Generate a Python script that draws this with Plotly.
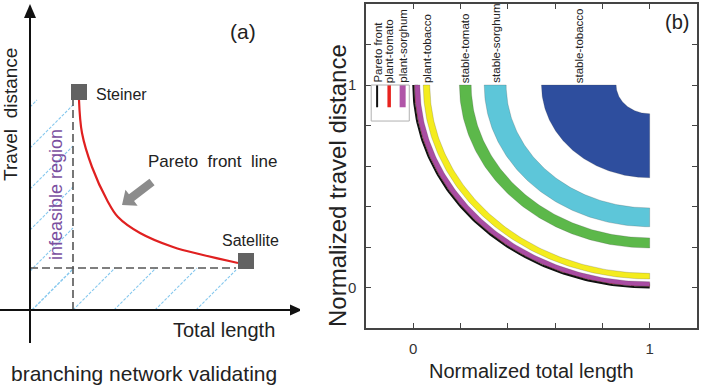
import numpy as np
import plotly.graph_objects as go

FONT = "Liberation Sans, Arial, sans-serif"

# ---------------- panel (b) data ----------------
band_names = ["plant-tomato", "plant-sorghum", "plant-tobacco",
              "stable-tomato", "stable-sorghum", "stable-tobacco"]
band_inner = [0.980, 0.972, 0.930, 0.755, 0.607, 0.142]
band_outer = [0.995, 0.994, 0.958, 0.805, 0.700, 0.458]
band_colors = ["#e8231f", "#a94ca3", "#f4ec1e", "#5cb84a", "#5dc6d9", "#2e4e9e"]
band_labelled = [False, False, True, True, True, True]
pareto_radius = 1.0
front_center_x = 1.0
front_center_y = 1.0

legend_names = ["Pareto front", "plant-tomato", "plant-sorghum"]
legend_colors = ["#111111", "#e8231f", "#b055a8"]
legend_x = [-0.153, -0.102, -0.045]
legend_widths = [2, 3.5, 6]
legend_box_x = [-0.178, -0.017]
legend_box_y = [0.822, 1.0]
legend_line_bottom = 0.89

xtick_vals = [-0.2, 0.0, 0.2, 0.4, 0.6, 0.8, 1.0, 1.2]
xtick_text = ["", "0", "", "", "", "", "1", ""]
ytick_vals = [-0.2, 0.0, 0.2, 0.4, 0.6, 0.8, 1.0, 1.2, 1.4]
ytick_text = ["", "0", "", "", "", "", "1", "", ""]

# ---------------- panel (a) schematic data ----------------
steiner = (4.9, 21.8)
satellite = (21.6, 4.9)
pareto_x = [4.9, 5.2, 6.2, 7.7, 8.8, 11.0, 14.3, 17.3, 20.8]
pareto_y = [21.0, 17.7, 14.3, 11.0, 9.3, 7.7, 6.3, 5.5, 4.7]
steiner_length = 4.3      # dashed vertical bound
satellite_distance = 4.2  # dashed horizontal bound
vertical_bound_top = 21.0
horizontal_bound_end = 20.6
hatch_spacing = 4.1
hatch_offset = 0.2
arrow_tail = (12.2, 12.8)
arrow_tip = (9.2, 10.5)

fig = go.Figure()

# ---------------- panel (b) traces ----------------
theta = np.linspace(np.pi, 1.5 * np.pi, 120)
for name, ri, ro, col in zip(band_names, band_inner, band_outer, band_colors):
    xo = front_center_x + ro * np.cos(theta)
    yo = front_center_y + ro * np.sin(theta)
    xi = front_center_x + ri * np.cos(theta[::-1])
    yi = front_center_y + ri * np.sin(theta[::-1])
    fig.add_trace(go.Scatter(
        x=np.concatenate([xo, xi, xo[:1]]), y=np.concatenate([yo, yi, yo[:1]]),
        fill="toself", fillcolor=col, mode="lines",
        line=dict(width=0.6, color="rgba(60,60,60,0.35)"),
        name=name, xaxis="x", yaxis="y", hoverinfo="name"))

fig.add_trace(go.Scatter(
    x=front_center_x + pareto_radius * np.cos(theta),
    y=front_center_y + pareto_radius * np.sin(theta),
    mode="lines", line=dict(color="#111111", width=2),
    name="Pareto front", xaxis="x", yaxis="y"))

for name, col, lx, lw in zip(legend_names, legend_colors, legend_x, legend_widths):
    fig.add_trace(go.Scatter(
        x=[lx, lx], y=[legend_box_y[1], legend_line_bottom], mode="lines",
        line=dict(color=col, width=lw), name=name, xaxis="x", yaxis="y",
        hoverinfo="skip"))

# ---------------- panel (a) traces ----------------
def clip_diag(c, x1, x2, y1, y2):
    # line y = x + c clipped to rectangle
    lo = max(x1, y1 - c)
    hi = min(x2, y2 - c)
    if hi <= lo:
        return None
    return (lo, lo + c, hi, hi + c)

hx, hy = [], []
for k in range(-6, 6):
    c = -(hatch_offset + hatch_spacing * k)
    for rect in [(0, steiner_length, 0, vertical_bound_top),
                 (0, horizontal_bound_end, 0, satellite_distance)]:
        seg = clip_diag(c, *rect)
        if seg:
            hx += [seg[0], seg[2], None]
            hy += [seg[1], seg[3], None]
fig.add_trace(go.Scatter(x=hx, y=hy, mode="lines",
                         line=dict(color="#86c8ee", width=1.1, dash="3px,1.5px"),
                         xaxis="x2", yaxis="y2", hoverinfo="skip"))

# dashed bounds
fig.add_trace(go.Scatter(x=[steiner_length, steiner_length], y=[0, vertical_bound_top],
                         mode="lines", line=dict(color="#555555", width=1.6, dash="8px,4px"),
                         xaxis="x2", yaxis="y2", hoverinfo="skip"))
fig.add_trace(go.Scatter(x=[0, horizontal_bound_end], y=[satellite_distance, satellite_distance],
                         mode="lines", line=dict(color="#555555", width=1.6, dash="8px,4px"),
                         xaxis="x2", yaxis="y2", hoverinfo="skip"))

# axes with arrowheads
fig.add_trace(go.Scatter(x=[0, 0], y=[-3.3, 29.4], mode="lines",
                         line=dict(color="#111111", width=2), xaxis="x2", yaxis="y2",
                         hoverinfo="skip"))
fig.add_trace(go.Scatter(x=[-3.0, 26.1], y=[0, 0], mode="lines",
                         line=dict(color="#111111", width=2), xaxis="x2", yaxis="y2",
                         hoverinfo="skip"))
fig.add_trace(go.Scatter(x=[-0.6, 0.6, 0, -0.6], y=[29.2, 29.2, 30.6, 29.2],
                         fill="toself", fillcolor="#111111", mode="lines",
                         line=dict(color="#111111", width=0), xaxis="x2", yaxis="y2",
                         hoverinfo="skip"))
fig.add_trace(go.Scatter(x=[26.0, 26.0, 27.2, 26.0], y=[-0.55, 0.55, 0, -0.55],
                         fill="toself", fillcolor="#111111", mode="lines",
                         line=dict(color="#111111", width=0), xaxis="x2", yaxis="y2",
                         hoverinfo="skip"))

# pareto curve
fig.add_trace(go.Scatter(x=pareto_x, y=pareto_y, mode="lines", line_shape="spline",
                         line=dict(color="#e02020", width=2.2), xaxis="x2", yaxis="y2"))

# Steiner / Satellite squares
fig.add_trace(go.Scatter(x=[steiner[0], satellite[0]], y=[steiner[1], satellite[1]],
                         mode="markers",
                         marker=dict(symbol="square", size=16, color="#626262"),
                         xaxis="x2", yaxis="y2"))

# grey fat arrow
T = np.array(arrow_tail)
P = np.array(arrow_tip)
d = (P - T) / np.linalg.norm(P - T)
n = np.array([-d[1], d[0]])
bw, hw, hl = 0.42, 1.0, 1.2
B = P - d * hl
poly = [T + n * bw, B + n * bw, B + n * hw, P, B - n * hw, B - n * bw, T - n * bw, T + n * bw]
fig.add_trace(go.Scatter(x=[p[0] for p in poly], y=[p[1] for p in poly],
                         fill="toself", fillcolor="#8c8c8c", mode="lines",
                         line=dict(color="#8c8c8c", width=0), xaxis="x2", yaxis="y2",
                         hoverinfo="skip"))

# ---------------- annotations ----------------
ann = []
for name, ri, ro, lab in zip(band_names, band_inner, band_outer, band_labelled):
    if lab:
        ann.append(dict(x=front_center_x - (ri + ro) / 2, y=1.0, xref="x", yref="y",
                        text=name, textangle=-90, showarrow=False,
                        xanchor="center", yanchor="bottom",
                        font=dict(family=FONT, size=11.5, color="#222222")))
for name, lx in zip(legend_names, legend_x):
    ann.append(dict(x=lx, y=1.0, xref="x", yref="y", text=name, textangle=-90,
                    showarrow=False, xanchor="center", yanchor="bottom",
                    font=dict(family=FONT, size=11.5, color="#222222")))


def p_text(px, py, t, size, angle=0):
    ann.append(dict(x=px / 701, y=1 - py / 386, xref="paper", yref="paper", text=t,
                    textangle=angle, showarrow=False, xanchor="center", yanchor="middle",
                    font=dict(family=FONT, size=size, color="#222222")))


p_text(677, 22, "(b)", 20)
p_text(531, 371, "Normalized total length", 20)
p_text(338, 186, "Normalized travel distance", 24, angle=-90)


def a_text(x, y, t, size, color="#222222", angle=0):
    ann.append(dict(x=x, y=y, xref="x2", yref="y2", text=t, textangle=angle,
                    showarrow=False, xanchor="center", yanchor="middle",
                    font=dict(family=FONT, size=size, color=color)))


a_text(-2.0, 19.5, "Travel  distance", 19, angle=-90)
a_text(19.4, -2.0, "Total length", 20)
a_text(11.4, -6.3, "branching network validating", 21)
a_text(9.1, 21.6, "Steiner", 16)
a_text(22.0, 7.0, "Satellite", 16)
a_text(18.2, 14.9, "Pareto  front  line", 17)
a_text(2.6, 11.5, "infeasible region", 18, color="#7b4fa0", angle=-90)
a_text(21.3, 27.9, "(a)", 21)

axis_b = dict(showline=True, linecolor="#444444", linewidth=1.5, mirror="ticks",
              ticks="inside", ticklen=5, tickcolor="#444444", tickwidth=1,
              showgrid=False, zeroline=False,
              tickfont=dict(family=FONT, size=15, color="#333333"))

fig.update_layout(
    width=701, height=386, margin=dict(l=0, r=0, t=0, b=0),
    paper_bgcolor="white", plot_bgcolor="white", showlegend=False,
    xaxis=dict(domain=[366 / 701, 697 / 701], range=[-0.2, 1.2],
               tickmode="array", tickvals=xtick_vals, ticktext=xtick_text,
               ticklabelstandoff=6, **axis_b),
    yaxis=dict(domain=[1 - 328 / 386, 1 - 4 / 386], range=[-0.2, 1.4],
               tickmode="array", tickvals=ytick_vals, ticktext=ytick_text,
               ticklabelstandoff=5, **axis_b),
    xaxis2=dict(domain=[0, 300 / 701], range=[-3.0, 27.0], visible=False),
    yaxis2=dict(domain=[0, 1], range=[-7.6, 31.0], visible=False, anchor="x2"),
    annotations=ann,
    shapes=[dict(type="rect", xref="x", yref="y",
                 x0=legend_box_x[0], x1=legend_box_x[1],
                 y0=legend_box_y[0], y1=legend_box_y[1],
                 line=dict(color="#b0b0b0", width=1))],
)
fig.write_html("out.html", config={"displayModeBar": False},
               post_script="document.body.style.margin='0';")
